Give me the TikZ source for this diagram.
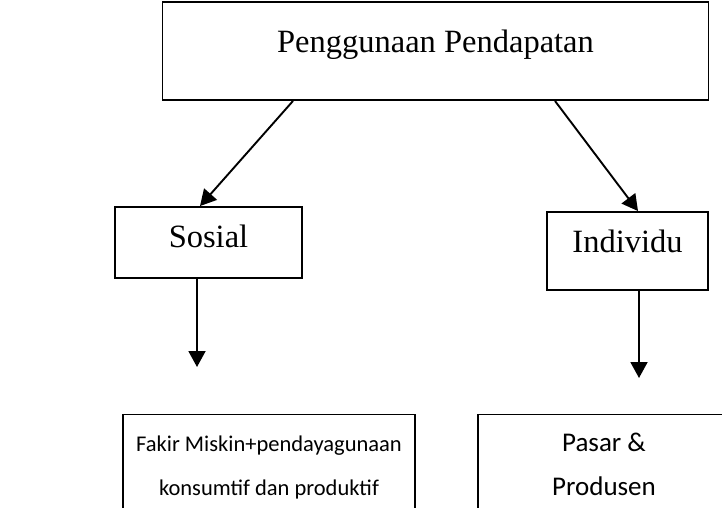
\documentclass[tikz,border=0pt]{standalone}
\usepackage{fontspec}
\setmainfont{Liberation Serif}
\newfontfamily\calfont{Carlito}
\usetikzlibrary{arrows.meta}
\tikzset{
  box/.style={draw=black, line width=1.9pt, rectangle, inner sep=0pt, fill=white},
  serifbox/.style={box, font=\fontsize{32.5}{38}\selectfont, text height=22pt},
  sansbox/.style={box, align=center},
  arr/.style={line width=1.9pt, -{Triangle[length=16pt,width=17pt]}}
}
\begin{document}
\begin{tikzpicture}[x=1pt,y=-1pt]
\useasboundingbox[fill=white] (0,0) rectangle (722,508);
\node[serifbox, minimum width=546pt, minimum height=98pt, text depth=18pt] (top) at (435.5,51) {Penggunaan Pendapatan};
\node[serifbox, minimum width=187pt, minimum height=71pt, text depth=12pt] (sosial) at (208.5,242.5) {Sosial};
\node[serifbox, minimum width=161pt, minimum height=78pt, text depth=20pt] (individu) at (627.5,251) {Individu};
\node[sansbox, font=\calfont\fontsize{22.5}{44}\selectfont, minimum width=292pt, minimum height=106pt] (fakir) at (269,467.5) {\rule{0pt}{17pt}Fakir Miskin+pendayagunaan\\konsumtif dan produktif\rule[-6pt]{0pt}{6pt}};
\node[sansbox, font=\calfont\fontsize{27}{44}\selectfont, minimum width=252pt, minimum height=106pt] (pasar) at (604,467.5) {\rule{0pt}{17pt}Pasar \&\\Produsen\rule[-6pt]{0pt}{6pt}};
\coordinate (sosend) at (197,367);
\coordinate (indend) at (639,378);
\draw[arr] ([xshift=-142.5pt]top.south) -- ([xshift=-8.5pt]sosial.north);
\draw[arr] ([xshift=119.5pt]top.south) -- ([xshift=10.5pt]individu.north);
\draw[arr] ([xshift=-11.5pt]sosial.south) -- (sosend);
\draw[arr] ([xshift=11.5pt]individu.south) -- (indend);
\end{tikzpicture}
\end{document}
